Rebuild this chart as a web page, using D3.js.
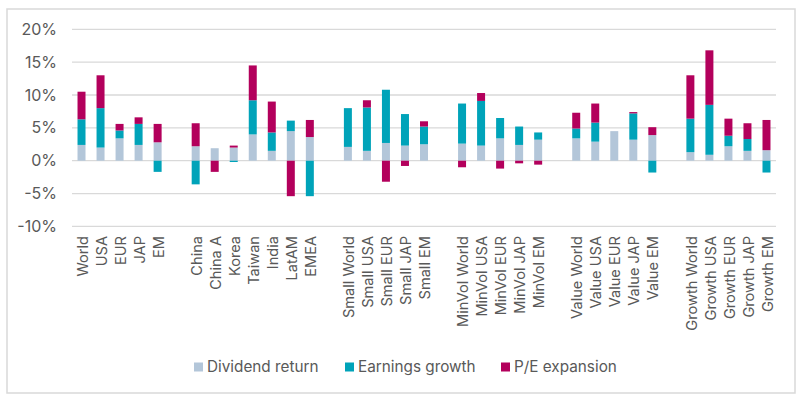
<!DOCTYPE html>
<html>
<head>
<meta charset="utf-8">
<script src="https://cdn.jsdelivr.net/npm/d3@7"></script>
<style>
  body { margin: 0; background: #fff; }
  text { font-family: Inter, "Open Sans", sans-serif; fill: #595959; }
</style>
</head>
<body>
<svg id="chart" width="800" height="399"></svg>
<script>
// categories ('' = gap between groups)
const categories = [
  'World', 'USA', 'EUR', 'JAP', 'EM', '',
  'China', 'China A', 'Korea', 'Taiwan', 'India', 'LatAM', 'EMEA', '',
  'Small World', 'Small USA', 'Small EUR', 'Small JAP', 'Small EM', '',
  'MinVol World', 'MinVol USA', 'MinVol EUR', 'MinVol JAP', 'MinVol EM', '',
  'Value World', 'Value USA', 'Value EUR', 'Value JAP', 'Value EM', '',
  'Growth World', 'Growth USA', 'Growth EUR', 'Growth JAP', 'Growth EM'
];

const dividendReturn = [
  2.4, 2.0, 3.4, 2.4, 2.8, 0,
  2.2, 1.9, 2.0, 4.0, 1.5, 4.5, 3.6, 0,
  2.1, 1.5, 2.7, 2.3, 2.5, 0,
  2.6, 2.3, 3.4, 2.4, 3.2, 0,
  3.4, 2.9, 4.5, 3.2, 3.9, 0,
  1.3, 0.9, 2.2, 1.5, 1.6
];
const earningsGrowth = [
  3.9, 6.0, 1.2, 3.2, -1.7, 0,
  -3.6, 0, -0.2, 5.2, 2.8, 1.6, -5.4, 0,
  5.9, 6.6, 8.1, 4.8, 2.7, 0,
  6.1, 6.8, 3.1, 2.8, 1.1, 0,
  1.5, 2.9, 0, 4.0, -1.8, 0,
  5.1, 7.6, 1.6, 1.8, -1.8
];
const peExpansion = [
  4.2, 5.0, 1.0, 1.0, 2.8, 0,
  3.5, -1.7, 0.3, 5.3, 4.7, -5.4, 2.6, 0,
  0, 1.1, -3.2, -0.8, 0.8, 0,
  -1.0, 1.2, -1.2, -0.4, -0.6, 0,
  2.4, 2.9, 0, 0.2, 1.2, 0,
  6.6, 8.3, 2.6, 2.4, 4.6
];

const seriesNames = ['Dividend return', 'Earnings growth', 'P/E expansion'];
const seriesColors = ['#b3c6d9', '#00a3b9', '#b3005c'];
const yTicks = [-10, -5, 0, 5, 10, 15, 20];

const rows = categories.map((c, i) => ({
  key: i, name: c,
  'Dividend return': dividendReturn[i],
  'Earnings growth': earningsGrowth[i],
  'P/E expansion': peExpansion[i]
}));

const svg = d3.select('#chart');

// outer border
svg.append('rect')
  .attr('x', 7).attr('y', 9).attr('width', 788).attr('height', 384)
  .attr('fill', 'none').attr('stroke', '#d9d9d9').attr('stroke-width', 1.5);

const plotLeft = 72, plotRight = 776, plotTop = 29.3, plotBottom = 226.4;

const x = d3.scaleBand()
  .domain(rows.map(d => d.key))
  .range([plotLeft, plotRight])
  .paddingInner(0.58).paddingOuter(0.29);

const y = d3.scaleLinear().domain([-10, 20]).range([plotBottom, plotTop]);

// gridlines
svg.append('g')
  .selectAll('line')
  .data(yTicks)
  .enter().append('line')
  .attr('x1', plotLeft).attr('x2', plotRight)
  .attr('y1', d => y(d)).attr('y2', d => y(d))
  .attr('stroke', '#d9d9d9').attr('stroke-width', 1.3);

// y axis labels
const yAxis = svg.append('g')
  .attr('transform', `translate(${plotLeft - 15},0)`)
  .call(d3.axisLeft(y).tickValues(yTicks).tickSize(0).tickFormat(d => d + '%'));
yAxis.select('.domain').remove();
yAxis.selectAll('text')
  .attr('x', 0)
  .style('font-size', '16px')
  .style('font-family', 'Inter, "Open Sans", sans-serif')
  .attr('fill', '#595959');

// stacked bars
const stack = d3.stack()
  .keys(seriesNames)
  .offset(d3.stackOffsetDiverging);
const layers = stack(rows);

svg.append('g')
  .selectAll('g')
  .data(layers)
  .enter().append('g')
  .attr('fill', (d, i) => seriesColors[i])
  .selectAll('rect')
  .data(d => d.filter(s => s.data.name !== '' && s[1] !== s[0]))
  .enter().append('rect')
  .attr('x', d => x(d.data.key))
  .attr('width', x.bandwidth())
  .attr('y', d => y(Math.max(d[0], d[1])))
  .attr('height', d => Math.abs(y(d[0]) - y(d[1])));

// category labels (rotated)
svg.append('g')
  .selectAll('text')
  .data(rows.filter(d => d.name !== ''))
  .enter().append('text')
  .attr('transform', d => `translate(${x(d.key) + x.bandwidth() / 2 + 1},236) rotate(-90)`)
  .attr('text-anchor', 'end')
  .attr('dy', '0.35em')
  .style('font-size', '14.6px')
  .text(d => d.name);

// legend
const legendX = [194, 345, 501];
const legend = svg.append('g')
  .selectAll('g')
  .data(seriesNames)
  .enter().append('g')
  .attr('transform', (d, i) => `translate(${legendX[i]},367)`);
legend.append('rect')
  .attr('x', 0).attr('y', -4.5)
  .attr('width', 9).attr('height', 9)
  .attr('fill', (d, i) => seriesColors[i]);
legend.append('text')
  .attr('x', 13).attr('dy', '0.35em')
  .style('font-size', '15.3px')
  .text(d => d);
</script>
</body>
</html>
